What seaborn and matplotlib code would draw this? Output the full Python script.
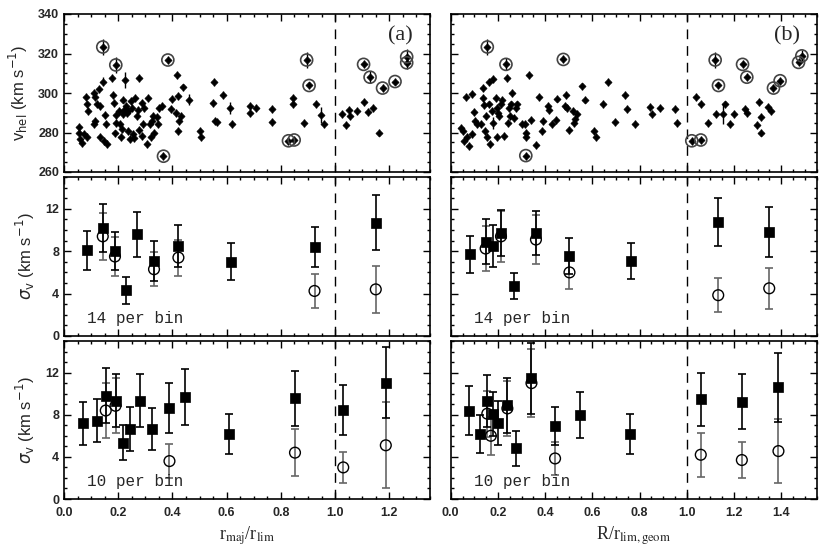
import numpy as np
import matplotlib
matplotlib.use("Agg")
import matplotlib.pyplot as plt
import seaborn as sns

# ---------------- DATA ----------------
# top-left: individual velocities vs r_maj/r_lim
lt_x = [0.055, 0.055, 0.059, 0.065, 0.075, 0.086, 0.081, 0.086, 0.087, 0.111,
        0.114, 0.121, 0.130, 0.133, 0.114, 0.112, 0.145, 0.155, 0.153, 0.133,
        0.148, 0.157, 0.176, 0.180, 0.186, 0.191, 0.193, 0.188, 0.204, 0.207,
        0.219, 0.225, 0.229, 0.216, 0.231, 0.237, 0.221, 0.214, 0.209, 0.237,
        0.244, 0.253, 0.258, 0.250, 0.246, 0.262, 0.268, 0.274, 0.277, 0.287,
        0.293, 0.295, 0.278, 0.287, 0.311, 0.317, 0.321, 0.305, 0.330, 0.323,
        0.342, 0.348, 0.352, 0.360, 0.332, 0.397, 0.394, 0.416, 0.422, 0.412,
        0.424, 0.422, 0.433, 0.440, 0.462, 0.503, 0.506, 0.553, 0.551, 0.557,
        0.566, 0.585, 0.613, 0.621, 0.686, 0.686, 0.708, 0.766, 0.769, 0.846,
        0.846, 0.886, 0.929, 0.947, 0.959, 1.027, 1.039, 1.052, 1.055, 1.080,
        1.105, 1.123, 1.138, 1.162]
lt_v = [282.8, 280.0, 276.7, 274.7, 279.2, 277.8, 298.0, 294.2, 290.8, 300.0,
        298.0, 294.5, 302.2, 293.3, 285.8, 284.2, 305.8, 284.5, 288.8, 277.5,
        275.8, 274.2, 307.5, 298.8, 295.0, 288.8, 285.0, 279.5, 290.8, 284.2,
        296.7, 306.7, 293.3, 289.2, 290.0, 290.8, 291.2, 281.7, 277.5, 280.8,
        276.7, 279.2, 277.2, 292.5, 295.8, 297.5, 288.3, 291.2, 307.5, 295.0,
        284.5, 292.5, 281.2, 278.3, 297.5, 284.2, 277.5, 274.2, 288.3, 285.8,
        287.8, 284.2, 292.5, 293.3, 280.0, 297.0, 291.7, 309.2, 298.3, 290.0,
        285.8, 280.8, 288.3, 302.8, 296.7, 280.8, 277.5, 305.5, 295.0, 285.8,
        285.5, 299.2, 292.5, 284.2, 293.3, 290.0, 292.2, 291.7, 285.3, 297.5,
        294.5, 285.0, 294.5, 288.8, 284.2, 289.2, 283.8, 291.3, 288.3, 290.8,
        295.5, 290.3, 292.5, 280.0]
lt_e = [2, 2, 2, 2, 2, 2, 2, 2, 2, 2,
        2, 2, 2, 2, 2, 2, 2.5, 2, 2, 2,
        2, 2, 2, 2, 2, 2, 2, 2, 2, 2,
        2, 4, 2, 2, 2, 2, 2, 2, 2, 2,
        2, 2, 2, 2, 2, 2, 2, 2, 2, 2,
        2, 2, 2, 2, 2, 2, 2, 2, 2, 2,
        2, 2, 2, 2, 2, 2, 2, 2, 2, 2,
        2, 2, 2, 2, 3, 2, 2, 2, 2, 2,
        2, 2, 3, 2, 2, 2, 2, 2, 2, 2,
        2, 2, 2, 4, 2, 2, 2, 2, 2, 2,
        2, 2, 2, 2]
lc_x = [0.143, 0.191, 0.367, 0.383, 0.828, 0.849, 0.895, 0.904, 1.105, 1.129, 1.175, 1.221, 1.264, 1.264]
lc_v = [323.3, 314.2, 268.0, 316.7, 275.8, 276.2, 316.7, 303.8, 314.5, 308.0, 302.5, 305.8, 318.3, 315.3]
lc_e = [4, 4, 2, 2, 2, 2, 4, 2, 2, 3, 2, 2, 4, 3]

# top-right: individual velocities vs R/r_lim,geom
rt_x = [0.044, 0.054, 0.058, 0.068, 0.078, 0.089, 0.065, 0.092, 0.099, 0.103,
        0.113, 0.127, 0.136, 0.138, 0.143, 0.148, 0.145, 0.153, 0.161, 0.164,
        0.167, 0.174, 0.181, 0.178, 0.192, 0.195, 0.195, 0.199, 0.206, 0.212,
        0.216, 0.226, 0.237, 0.242, 0.249, 0.251, 0.256, 0.258, 0.266, 0.277,
        0.282, 0.301, 0.315, 0.318, 0.319, 0.333, 0.339, 0.362, 0.376, 0.390,
        0.386, 0.414, 0.418, 0.428, 0.446, 0.452, 0.489, 0.484, 0.492, 0.503,
        0.516, 0.523, 0.528, 0.534, 0.555, 0.569, 0.605, 0.616, 0.647, 0.665,
        0.694, 0.739, 0.746, 0.781, 0.845, 0.852, 0.887, 0.951, 0.960, 1.038,
        1.061, 1.089, 1.123, 1.155, 1.162, 1.181, 1.201, 1.247, 1.254, 1.299,
        1.304, 1.314, 1.315, 1.343, 1.356]
rt_v = [282.5, 280.8, 275.8, 277.8, 273.3, 279.2, 298.0, 299.7, 290.5, 285.8,
        284.5, 284.2, 302.5, 297.5, 293.8, 288.3, 280.8, 277.8, 305.5, 294.2,
        274.2, 290.8, 307.0, 285.0, 297.5, 292.5, 277.5, 290.0, 288.3, 294.2,
        296.7, 278.3, 307.5, 285.0, 292.5, 288.3, 294.2, 300.0, 287.5, 292.5,
        294.2, 284.2, 284.2, 280.0, 277.5, 309.2, 286.2, 273.8, 297.8, 285.8,
        280.8, 293.3, 291.2, 284.5, 286.2, 297.2, 299.2, 293.3, 292.5, 281.3,
        290.8, 285.0, 286.7, 289.2, 303.3, 296.7, 280.8, 277.5, 294.5, 305.5,
        285.5, 299.2, 291.7, 284.5, 292.8, 289.5, 292.5, 292.0, 285.0, 297.8,
        294.5, 285.0, 289.2, 289.2, 294.2, 284.5, 289.2, 291.7, 290.0, 283.8,
        295.5, 287.8, 280.0, 293.0, 290.8]
rt_e = [2, 2, 2, 2, 2, 2, 2, 2, 2, 2,
        2, 2, 2, 2, 2, 2, 2, 2, 2, 2,
        2, 2, 2, 3, 2, 2, 2, 2, 2, 2,
        2, 2, 2, 2, 2, 2, 2, 2, 2, 2,
        2, 2, 2, 2, 2, 2, 2, 2, 2, 2,
        2, 2, 2, 2, 2, 2, 2, 2, 2, 2,
        2, 2, 2, 2, 2, 2, 2, 2, 2, 2,
        2, 2, 2, 2, 2, 2, 2, 2, 2, 2,
        2, 2, 2, 5, 2, 2, 2, 2, 2, 2,
        2, 2, 2, 2, 2]
rc_x = [0.155, 0.234, 0.318, 0.477, 1.021, 1.059, 1.120, 1.134, 1.236, 1.254, 1.367, 1.395, 1.473, 1.487]
rc_v = [323.3, 314.5, 268.3, 317.0, 275.8, 276.2, 316.7, 303.8, 314.5, 308.0, 302.5, 306.2, 315.5, 318.8]
rc_e = [4, 3, 2, 2, 2, 2, 4, 2, 2, 2, 2, 2, 2, 3]

# middle-left: 14 per bin
ml_sq_x = [0.084, 0.143, 0.188, 0.228, 0.268, 0.332, 0.422, 0.616, 0.924, 1.150]
ml_sq_y = [8.1, 10.2, 8.0, 4.3, 9.6, 7.1, 8.5, 7.0, 8.4, 10.7]
ml_sq_e = [1.85, 2.3, 1.8, 1.3, 2.1, 1.9, 2.0, 1.75, 1.9, 2.6]
ml_ci_x = [0.143, 0.188, 0.332, 0.422, 0.924, 1.150]
ml_ci_y = [9.4, 7.5, 6.3, 7.4, 4.25, 4.4]
ml_ci_e = [2.2, 1.85, 1.6, 1.7, 1.6, 2.2]

# middle-right: 14 per bin
mr_sq_x = [0.082, 0.148, 0.178, 0.213, 0.268, 0.361, 0.503, 0.764, 1.133, 1.349]
mr_sq_y = [7.7, 8.9, 8.5, 9.7, 4.7, 9.7, 7.55, 7.1, 10.75, 9.8]
mr_sq_e = [1.75, 2.15, 1.95, 2.15, 1.25, 2.1, 1.7, 1.7, 2.3, 2.35]
mr_ci_x = [0.148, 0.213, 0.361, 0.503, 1.133, 1.349]
mr_ci_y = [8.25, 9.4, 9.1, 6.0, 3.85, 4.5]
mr_ci_e = [2.1, 2.4, 2.3, 1.6, 1.6, 1.95]

# bottom-left: 10 per bin
bl_sq_x = [0.071, 0.123, 0.154, 0.190, 0.219, 0.243, 0.280, 0.323, 0.389, 0.446, 0.610, 0.852, 1.030, 1.187]
bl_sq_y = [7.2, 7.45, 9.8, 9.35, 5.35, 6.65, 9.35, 6.65, 8.65, 9.7, 6.15, 9.55, 8.45, 11.05]
bl_sq_e = [2.05, 2.0, 2.6, 2.55, 1.65, 2.05, 2.5, 2.0, 2.4, 2.65, 1.9, 2.6, 2.4, 3.4]
bl_ci_x = [0.154, 0.190, 0.389, 0.852, 1.030, 1.187]
bl_ci_y = [8.4, 8.85, 3.6, 4.4, 3.0, 5.1]
bl_ci_e = [2.6, 2.6, 1.65, 2.2, 1.5, 4.1]

# bottom-right: 10 per bin
br_sq_x = [0.078, 0.124, 0.155, 0.178, 0.199, 0.240, 0.275, 0.342, 0.442, 0.548, 0.758, 1.059, 1.233, 1.388]
br_sq_y = [8.4, 6.15, 9.3, 8.05, 7.2, 8.9, 4.8, 11.45, 6.9, 7.95, 6.15, 9.45, 9.25, 10.6]
br_sq_e = [2.3, 1.8, 2.5, 2.1, 2.1, 2.6, 1.65, 3.4, 1.8, 2.2, 1.9, 2.55, 2.6, 3.3]
br_ci_x = [0.155, 0.170, 0.240, 0.342, 0.442, 1.059, 1.233, 1.388]
br_ci_y = [8.1, 6.0, 8.6, 11.0, 3.85, 4.2, 3.7, 4.55]
br_ci_e = [2.2, 1.8, 2.6, 3.2, 1.6, 2.1, 1.7, 3.0]

xlims = [(0.0, 1.35), (0.0, 1.55)]
x_labels = [r"r$_{\rm maj}$/r$_{\rm lim}$", r"R/r$_{\rm lim,geom}$"]
panel_tags = ["(a)", "(b)"]
bin_labels = ["14 per bin", "10 per bin"]

# ---------------- STYLE ----------------
sns.set_style("ticks")
plt.rcParams["font.family"] = ["Liberation Sans", "DejaVu Sans"]
plt.rcParams["axes.linewidth"] = 1.2
plt.rcParams["xtick.direction"] = "in"
plt.rcParams["ytick.direction"] = "in"

W, H = 830, 553
fig = plt.figure(figsize=(W / 100, H / 100), dpi=100)

col_left = [64 / W, 450.7 / W]
col_w = 366 / W
rows_px = [(14, 172), (177, 336), (341, 499)]


def add_ax(col, row):
    t, b = rows_px[row]
    return fig.add_axes([col_left[col], 1 - b / H, col_w, (b - t) / H])


def style_ax(ax, col, row):
    ax.set_xlim(*xlims[col])
    ax.xaxis.set_major_locator(matplotlib.ticker.MultipleLocator(0.2))
    ax.xaxis.set_minor_locator(matplotlib.ticker.MultipleLocator(0.05))
    if row == 0:
        ax.set_ylim(260, 340)
        ax.yaxis.set_major_locator(matplotlib.ticker.MultipleLocator(20))
        ax.yaxis.set_minor_locator(matplotlib.ticker.MultipleLocator(5))
    else:
        ax.set_ylim(0, 15)
        ax.yaxis.set_major_locator(matplotlib.ticker.MultipleLocator(4))
        ax.yaxis.set_minor_locator(matplotlib.ticker.MultipleLocator(1))
    ax.tick_params(which="both", direction="in", top=True, right=True,
                   color="black", width=1.0, labelsize=9)
    ax.tick_params(which="major", length=5)
    ax.tick_params(which="minor", length=2.5)
    ax.tick_params(axis="x", pad=6)
    for lab in ax.get_xticklabels() + ax.get_yticklabels():
        lab.set_fontweight("bold")
    if row != 2:
        ax.tick_params(labelbottom=False)
    else:
        ax.set_xticks(ax.get_xticks())
        ax.set_xticklabels([f"{t:.1f}" for t in ax.get_xticks()], fontweight="bold")
        ax.set_xlim(*xlims[col])
        ax.set_xlabel(x_labels[col], fontsize=13, family="Liberation Serif",
                      math_fontfamily="stix", labelpad=4)
    if col == 1:
        ax.tick_params(labelleft=False)
    else:
        if row == 0:
            ax.set_ylabel(r"v$_{\rm hel}$ (km s$^{-1}$)", fontsize=12, labelpad=6)
        else:
            ax.set_ylabel(r"$\sigma_{\rm v}$ (km s$^{-1}$)", fontsize=12, labelpad=6)
    for sp in ax.spines.values():
        sp.set_visible(True)
        sp.set_color("black")
        sp.set_linewidth(1.2)
    ax.axvline(1.0, color="black", lw=1.0, ls=(0, (7, 5)), zorder=0)


def open_circles(ax, x, y, s, ec, lw, z):
    sns.scatterplot(x=x, y=y, ax=ax, marker="o", s=s, color="none",
                    edgecolor=ec, linewidth=lw, zorder=z, legend=False)
    coll = ax.collections[-1]
    coll.set_facecolor("none")
    coll.set_edgecolor(ec)
    coll.set_linewidth(lw)


# ---------------- TOP ROW ----------------
top_sets = [(lt_x, lt_v, lt_e, lc_x, lc_v, lc_e), (rt_x, rt_v, rt_e, rc_x, rc_v, rc_e)]
for col, (px, pv, pe, cx, cv, ce) in enumerate(top_sets):
    ax = add_ax(col, 0)
    ax.errorbar(px, pv, yerr=pe, fmt="none", ecolor="black", elinewidth=1.0, capsize=0, zorder=2)
    ax.errorbar(cx, cv, yerr=ce, fmt="none", ecolor="black", elinewidth=1.0, capsize=0, zorder=2)
    sns.scatterplot(x=px + cx, y=pv + cv, ax=ax, marker="D", s=13, color="black",
                    edgecolor="black", linewidth=0.5, zorder=3, legend=False)
    open_circles(ax, cx, cv, 75, "#444444", 1.2, 4)
    style_ax(ax, col, 0)
    ax.text(0.92 if col == 0 else 0.918, 0.86, panel_tags[col], transform=ax.transAxes,
            ha="center", va="center", fontsize=16, family="Liberation Serif")

# ---------------- DISPERSION ROWS ----------------
disp_sets = {
    (0, 1): (ml_sq_x, ml_sq_y, ml_sq_e, ml_ci_x, ml_ci_y, ml_ci_e),
    (1, 1): (mr_sq_x, mr_sq_y, mr_sq_e, mr_ci_x, mr_ci_y, mr_ci_e),
    (0, 2): (bl_sq_x, bl_sq_y, bl_sq_e, bl_ci_x, bl_ci_y, bl_ci_e),
    (1, 2): (br_sq_x, br_sq_y, br_sq_e, br_ci_x, br_ci_y, br_ci_e),
}
for (col, row), (sx, sy, se, cx, cy, ce) in disp_sets.items():
    ax = add_ax(col, row)
    ax.errorbar(cx, cy, yerr=ce, fmt="none", ecolor="#666666", elinewidth=1.2,
                capsize=3, capthick=1.2, zorder=2)
    ax.errorbar(sx, sy, yerr=se, fmt="none", ecolor="black", elinewidth=1.2,
                capsize=3, capthick=1.2, zorder=3)
    open_circles(ax, cx, cy, 60, "black", 1.0, 4)
    sns.scatterplot(x=sx, y=sy, ax=ax, marker="s", s=60, color="black",
                    edgecolor="black", linewidth=0.5, zorder=5, legend=False)
    style_ax(ax, col, row)
    ax.text(0.063, 0.11, bin_labels[row - 1], transform=ax.transAxes, ha="left",
            va="center", fontsize=11.5, family="Liberation Mono")

fig.savefig("out.png", dpi=100)
